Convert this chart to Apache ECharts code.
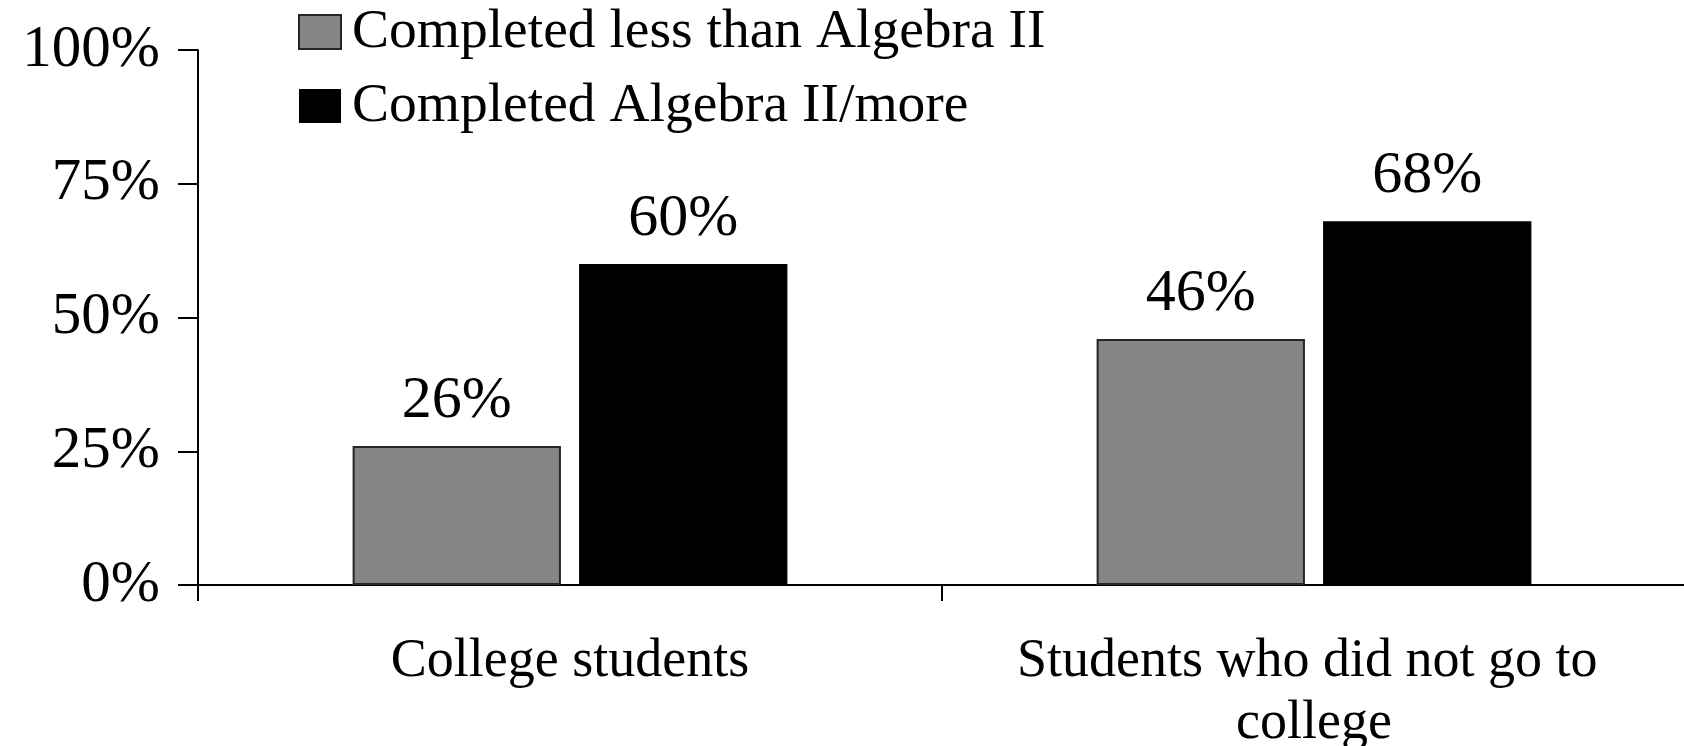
<!DOCTYPE html>
<html>
<head>
<meta charset="utf-8">
<style>
  html, body { margin: 0; padding: 0; background: #ffffff; }
  #chart { width: 1684px; height: 746px; }
</style>
<script src="https://cdn.jsdelivr.net/npm/echarts@6/dist/echarts.min.js"></script>
</head>
<body>
<div id="chart"></div>
<script>
// Share of students by highest math course completed
const categories = ['College students', 'Students who did not go to college'];
const seriesNames = ['Completed less than Algebra II', 'Completed Algebra II/more'];
const lessThanAlgebra2 = [26, 46];
const algebra2OrMore = [60, 68];
const yTicks = { min: 0, max: 100, interval: 25 };

const FONT = "'Liberation Serif', 'Times New Roman', serif";
const INK = '#000000';

const chart = echarts.init(document.getElementById('chart'), null, { renderer: 'canvas' });

const valueLabel = {
  show: true,
  position: 'top',
  distance: 15,
  formatter: '{c}%',
  fontFamily: FONT,
  fontSize: 60,
  color: INK
};

chart.setOption({
  backgroundColor: '#ffffff',
  animation: false,
  legend: {
    orient: 'vertical',
    left: 293,
    top: -1,
    itemWidth: 42,
    itemHeight: 34,
    itemGap: 18,
    icon: 'rect',
    textStyle: {
      fontFamily: FONT,
      fontSize: 55.5,
      color: INK,
      padding: [0, 0, 0, 6]
    },
    data: seriesNames
  },
  grid: {
    left: 198,
    right: -2,
    top: 50,
    bottom: 161,
    containLabel: false,
    outerBoundsMode: 'none'
  },
  xAxis: {
    type: 'category',
    data: categories,
    axisLine: { show: true, lineStyle: { color: INK, width: 2 } },
    axisTick: { show: true, length: 16, lineStyle: { color: INK, width: 2 } },
    axisLabel: {
      interval: 0,
      fontFamily: FONT,
      fontSize: 54,
      lineHeight: 62,
      color: INK,
      margin: 46,
      width: 640,
      overflow: 'break',
      align: 'center'
    },
    splitLine: { show: false }
  },
  yAxis: {
    type: 'value',
    min: yTicks.min,
    max: yTicks.max,
    interval: yTicks.interval,
    axisLine: { show: true, lineStyle: { color: INK, width: 2 } },
    axisTick: { show: true, length: 20, lineStyle: { color: INK, width: 2 } },
    axisLabel: {
      formatter: '{value}%',
      fontFamily: FONT,
      fontSize: 59,
      color: INK,
      margin: 38
    },
    splitLine: { show: false }
  },
  series: [
    {
      name: seriesNames[0],
      type: 'bar',
      data: lessThanAlgebra2,
      barWidth: '28%',
      barGap: '8.7%',
      itemStyle: { color: '#858585', borderColor: '#262626', borderWidth: 2 },
      label: valueLabel
    },
    {
      name: seriesNames[1],
      type: 'bar',
      data: algebra2OrMore,
      barWidth: '28%',
      barGap: '8.7%',
      itemStyle: { color: '#000000' },
      label: valueLabel
    }
  ]
});
</script>
</body>
</html>
